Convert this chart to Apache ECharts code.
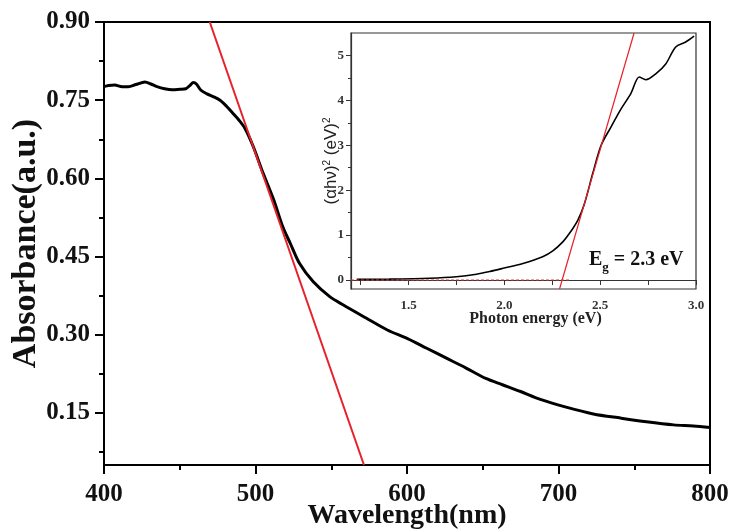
<!DOCTYPE html>
<html>
<head>
<meta charset="utf-8">
<script src="https://cdn.jsdelivr.net/npm/echarts@6/dist/echarts.min.js"></script>
<style>html,body{margin:0;padding:0;background:#fff}#c{width:733px;height:529px}</style>
</head>
<body>
<div id="c"></div>
<script>
// ---- Main absorbance spectrum ----
const wavelength = [400,403,407,412,416,421,427,431,435,440,445,450,454,457,459,461,464,468,472,476.6,481,485,489,493,498.5,505,512,518,523,529,538,549,558,573,587,600,613,626,639,652,663,675,688,705,723,741,758,776,789,800];
const absorbance = [0.776,0.778,0.779,0.776,0.776,0.780,0.785,0.781,0.776,0.772,0.770,0.771,0.772,0.779,0.784,0.781,0.769,0.762,0.757,0.750,0.738,0.725,0.712,0.696,0.661,0.610,0.559,0.507,0.475,0.437,0.402,0.373,0.357,0.332,0.309,0.293,0.274,0.255,0.236,0.216,0.204,0.191,0.176,0.161,0.148,0.140,0.133,0.127,0.125,0.122];
const tangentWl = [469.8, 571.6];
const tangentAbs = [0.90, 0.05];
const mainYLabels = [0.15,0.30,0.45,0.60,0.75,0.90];
const mainYMinor = [0.075,0.225,0.375,0.525,0.675,0.825];

// ---- Inset Tauc plot ----
const photonEnergy = [1.23,1.40,1.61,1.75,1.855,1.924,1.993,2.097,2.20,2.253,2.305,2.34,2.383,2.418,2.461,2.505,2.557,2.609,2.66,2.704,2.738,2.79,2.842,2.894,2.946,2.99];
const tauc = [0.015,0.02,0.04,0.074,0.13,0.19,0.26,0.37,0.52,0.65,0.85,1.04,1.33,1.70,2.37,3.0,3.41,3.81,4.15,4.52,4.46,4.59,4.81,5.19,5.30,5.43];
const taucFitE = [2.288, 2.677];
const taucFitY = [-0.2, 5.5];
const baselineE = [1.2, 2.34];
const baselineY = [0, 0];
const insetXLabels = [1.5,2.0,2.5,3.0];
const insetXTicks = [1.25,1.5,1.75,2.0,2.25,2.5,2.75,3.0];
const insetYLabels = [0,1,2,3,4,5];
const insetYMinor = [0.5,1.5,2.5,3.5,4.5];

const serif = 'Liberation Serif';
const zip = (a,b) => a.map((v,i)=>[v,b[i]]);

const chart = echarts.init(document.getElementById('c'));
chart.setOption({
  animation: false,
  backgroundColor: '#fff',
  title: {
    text: '{a|E}{b|g}{a| = 2.3 eV}',
    left: 584, top: 245,
    textStyle: {
      rich: {
        a: {fontFamily: serif, fontWeight: 'bold', fontSize: 20, color: '#111', lineHeight: 22, verticalAlign: 'top'},
        b: {fontFamily: serif, fontWeight: 'bold', fontSize: 13, color: '#111', lineHeight: 14, verticalAlign: 'top', padding: [11,0,0,0]}
      }
    }
  },
  grid: [
    {left: 104, right: 23, top: 22, bottom: 64, show: true, borderColor: '#000', borderWidth: 2, containLabel: false, outerBoundsMode: 'none'},
    {left: 351, right: 37, top: 33, bottom: 240, show: true, borderColor: '#333', borderWidth: 1.2, backgroundColor: '#fff', z: 5, outerBoundsMode: 'none'}
  ],
  xAxis: [
    {gridIndex: 0, type: 'value', min: 400, max: 800, interval: 100,
     name: 'Wavelength(nm)', nameLocation: 'middle', nameGap: 37, nameMoveOverlap: false,
     nameTextStyle: {fontFamily: serif, fontWeight: 'bold', fontSize: 28, color: '#111'},
     axisLine: {lineStyle: {color: '#000', width: 2}},
     axisTick: {inside: false, length: 9, lineStyle: {color: '#000', width: 2}},
     minorTick: {show: true, splitNumber: 2, length: 5, lineStyle: {color: '#000', width: 2}},
     splitLine: {show: false},
     axisLabel: {fontFamily: serif, fontWeight: 'bold', fontSize: 25, color: '#111', margin: 17}},
    {gridIndex: 1, type: 'value', min: 1.2, max: 3.0,
     name: 'Photon energy (eV)', nameLocation: 'middle', nameGap: 22, nameMoveOverlap: false,
     nameTextStyle: {fontFamily: serif, fontWeight: 'bold', fontSize: 16, color: '#222', padding: [0,0,0,24]},
     axisLine: {lineStyle: {color: '#333', width: 1.2}},
     axisTick: {inside: false, length: 5, customValues: insetXTicks, lineStyle: {color: '#333', width: 1}},
     splitLine: {show: false},
     axisLabel: {customValues: insetXLabels, formatter: v => v.toFixed(1), fontFamily: serif, fontWeight: 'bold', fontSize: 13, color: '#333', margin: 10},
     z: 6}
  ],
  yAxis: [
    {gridIndex: 0, type: 'value', position: 'left', min: 0.05, max: 0.90,
     name: 'Absorbance(a.u.)', nameLocation: 'middle', nameGap: 61, nameMoveOverlap: false,
     nameTextStyle: {fontFamily: serif, fontWeight: 'bold', fontSize: 34, color: '#111'},
     axisLine: {lineStyle: {color: '#000', width: 2}},
     axisTick: {inside: false, length: 9, customValues: mainYLabels, lineStyle: {color: '#000', width: 2}},
     splitLine: {show: false},
     axisLabel: {customValues: mainYLabels, formatter: v => v.toFixed(2), fontFamily: serif, fontWeight: 'bold', fontSize: 25, color: '#111', margin: 14}},
    {gridIndex: 0, type: 'value', position: 'left', min: 0.05, max: 0.90,
     axisLine: {show: false},
     axisTick: {inside: false, length: 5, customValues: mainYMinor, lineStyle: {color: '#000', width: 2}},
     splitLine: {show: false},
     axisLabel: {show: false}},
    {gridIndex: 1, type: 'value', position: 'left', min: -0.2, max: 5.5,
     name: '(αhν){s|2} (eV){s|2}', nameLocation: 'middle', nameGap: 11, nameMoveOverlap: false,
     nameTextStyle: {fontFamily: 'Liberation Sans', fontSize: 17, color: '#222', lineHeight: 18,
       rich: {s: {fontFamily: 'Liberation Sans', fontSize: 10, color: '#222', verticalAlign: 'top', lineHeight: 18, padding: [0,0,7,0]}}},
     axisLine: {lineStyle: {color: '#333', width: 1.2}},
     axisTick: {inside: false, length: 5, customValues: insetYLabels, lineStyle: {color: '#333', width: 1}},
     splitLine: {show: false},
     axisLabel: {customValues: insetYLabels, fontFamily: serif, fontWeight: 'bold', fontSize: 13, color: '#333', margin: 7},
     z: 6},
    {gridIndex: 1, type: 'value', position: 'left', min: -0.2, max: 5.5,
     axisLine: {show: false},
     axisTick: {inside: false, length: 3, customValues: insetYMinor, lineStyle: {color: '#333', width: 1}},
     splitLine: {show: false},
     axisLabel: {show: false}, z: 6}
  ],
  series: [
    {type: 'line', xAxisIndex: 0, yAxisIndex: 0, data: zip(wavelength, absorbance), showSymbol: false, smooth: 0.3,
     lineStyle: {color: '#000', width: 3}, z: 2},
    {type: 'line', xAxisIndex: 0, yAxisIndex: 0, data: zip(tangentWl, tangentAbs), showSymbol: false,
     lineStyle: {color: '#e8202a', width: 2}, z: 3},
    {type: 'line', xAxisIndex: 1, yAxisIndex: 2, data: zip(photonEnergy, tauc), showSymbol: false, smooth: 0.3,
     lineStyle: {color: '#000', width: 1.6}, z: 7},
    {type: 'line', xAxisIndex: 1, yAxisIndex: 2, data: zip(taucFitE, taucFitY), showSymbol: false,
     lineStyle: {color: '#e8202a', width: 1.2}, z: 8},
    {type: 'line', xAxisIndex: 1, yAxisIndex: 2, data: zip(baselineE, baselineY), showSymbol: false,
     lineStyle: {color: '#d83a3a', width: 1.2, type: [3, 2]}, z: 8}
  ]
});
</script>
</body>
</html>
